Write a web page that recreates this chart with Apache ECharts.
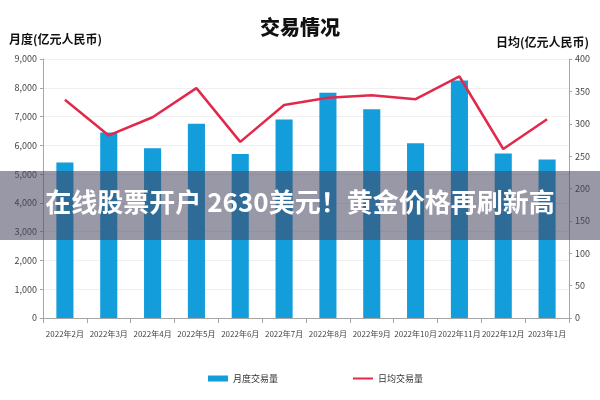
<!DOCTYPE html>
<html><head><meta charset="utf-8">
<script src="https://cdn.jsdelivr.net/npm/echarts@6/dist/echarts.min.js"></script>
<style>html,body{margin:0;padding:0;background:#fff}#c{width:600px;height:400px}</style>
</head><body><div id="c"></div>
<script>
const categories = ['2022年2月','2022年3月','2022年4月','2022年5月','2022年6月','2022年7月','2022年8月','2022年9月','2022年10月','2022年11月','2022年12月','2023年1月'];
const monthlyVolume = [5400, 6450, 5900, 6750, 5700, 6900, 7830, 7250, 6070, 8250, 5720, 5510];
const dailyVolume = [337, 282, 310, 355, 272, 329, 340, 344, 338, 373, 261, 307];
const leftTicks = {min: 0, max: 9000, interval: 1000};
const rightTicks = {min: 0, max: 400, interval: 50};

const font = '"Noto Sans CJK SC", "Noto Sans", sans-serif';
const chart = echarts.init(document.getElementById('c'));
chart.setOption({
  animation: false,
  textStyle: {fontFamily: font},
  title: {text: '交易情况', left: 'center', top: 12,
    textStyle: {fontSize: 20, fontWeight: 900, color: '#111', fontFamily: font}},
  grid: {left: 43, right: 31, top: 59, bottom: 82},
  legend: {bottom: 12, left: 203, itemGap: 75, itemWidth: 20, itemHeight: 6,
    textStyle: {fontSize: 9, color: '#333'},
    data: [{name: '月度交易量', icon: 'rect'}, {name: '日均交易量', icon: 'path://M0,0 L20,0 L20,2 L0,2 Z'}]},
  xAxis: {type: 'category', data: categories,
    axisLine: {lineStyle: {color: '#a6a6a6'}},
    axisTick: {show: true, lineStyle: {color: '#a6a6a6'}},
    axisLabel: {fontSize: 8, color: '#444', margin: 12, interval: 0,
      fontFamily: '"Liberation Sans Narrow", "Noto Sans CJK SC", sans-serif'}},
  yAxis: [
    {type: 'value', min: leftTicks.min, max: leftTicks.max, interval: leftTicks.interval,
     name: '月度(亿元人民币)', nameLocation: 'end', nameGap: 14,
     nameTextStyle: {fontSize: 12, fontWeight: 'bold', color: '#111', align: 'left', padding: [0, 0, 0, -34]},
     axisLine: {show: true, lineStyle: {color: '#a6a6a6'}},
     axisTick: {show: true, length: 3, lineStyle: {color: '#a6a6a6'}},
     axisLabel: {fontSize: 9, color: '#444', margin: 6,
       formatter: v => v.toLocaleString('en-US')},
     splitLine: {lineStyle: {color: '#f0f0f0'}}},
    {type: 'value', min: rightTicks.min, max: rightTicks.max, interval: rightTicks.interval,
     name: '日均(亿元人民币)', nameLocation: 'end', nameGap: 11,
     nameTextStyle: {fontSize: 12, fontWeight: 'bold', color: '#111', align: 'right', padding: [0, -20, 0, 0]},
     axisLine: {show: true, lineStyle: {color: '#a6a6a6'}},
     axisTick: {show: true, length: 3, lineStyle: {color: '#a6a6a6'}},
     axisLabel: {fontSize: 9, color: '#444', margin: 6},
     splitLine: {show: false}}
  ],
  series: [
    {name: '月度交易量', type: 'bar', data: monthlyVolume, barWidth: '39%',
     itemStyle: {color: '#139ddb'}},
    {name: '日均交易量', type: 'line', yAxisIndex: 1, data: dailyVolume,
     symbol: 'none', lineStyle: {color: '#e3294b', width: 2.5}, itemStyle: {color: '#e3294b'}}
  ],
  graphic: [
    {type: 'rect', left: 0, top: 171, z: 100,
     shape: {width: 600, height: 69},
     style: {fill: 'rgba(70,68,95,0.55)'}},
    {type: 'text', left: 'center', top: 189, z: 101,
     style: {text: '在线股票开户 2630美元！黄金价格再刷新高', fill: '#fff',
       font: 'bold 26px "Noto Sans CJK SC", sans-serif'}}
  ]
});
</script></body></html>
